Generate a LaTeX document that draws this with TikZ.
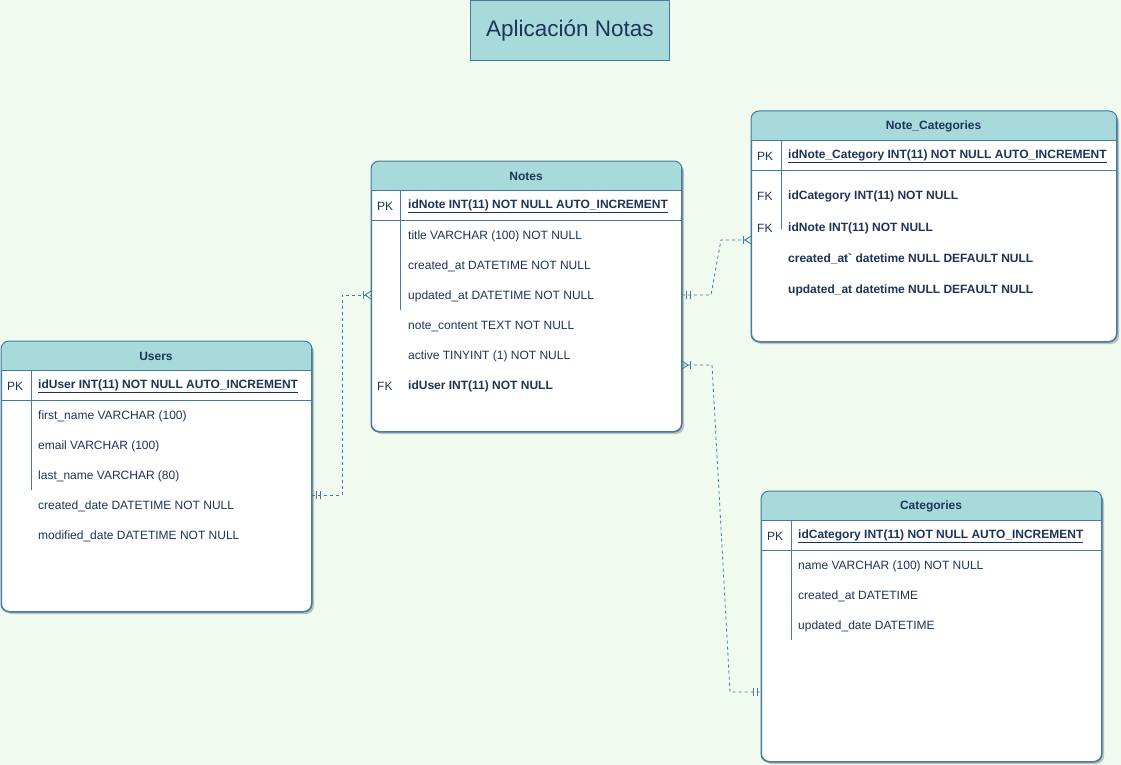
\documentclass[tikz,border=0pt]{standalone}
\usepackage{fontspec}
\setmainfont{Liberation Sans}
\usetikzlibrary{arrows.meta,positioning,shadows,decorations.markings}
\definecolor{bgmint}{HTML}{F1FAEE}
\definecolor{headteal}{HTML}{A8DADC}
\definecolor{edgeblue}{HTML}{457B9D}
\definecolor{inkblue}{HTML}{1D3557}
\tikzset{
  tablebox/.style={draw=edgeblue, fill=white, rounded corners=8pt, line width=1pt, anchor=north west, inner sep=0pt,
    drop shadow={shadow xshift=2.5pt, shadow yshift=-2.5pt, fill=black!45, opacity=0.5}},
  titlebox/.style={draw=edgeblue, fill=headteal, line width=1pt, anchor=north west, text=inkblue, font=\fontsize{22.5}{26}\selectfont},
  headtext/.style={text=inkblue, inner sep=0pt, yshift=-1pt, font=\fontsize{12}{14}\selectfont\bfseries},
  rowtext/.style={anchor=west, inner sep=0pt, yshift=-1.5pt, text=inkblue, font=\fontsize{12}{14}\selectfont},
  boldrow/.style={rowtext, font=\fontsize{12}{14}\selectfont\bfseries},
  sepline/.style={draw=edgeblue, line width=1pt},
  relline/.style={draw=edgeblue, line width=0.8pt, dash pattern=on 3pt off 3pt},
  markpen/.style={draw=edgeblue, solid, line width=0.9pt},
  onestart/.style={postaction={decorate, decoration={markings,
      mark=at position 4pt with {\draw[markpen] (0,-4pt) -- (0,4pt);},
      mark=at position 8pt with {\draw[markpen] (0,-4pt) -- (0,4pt);}}}},
  oneend/.style={postaction={decorate, decoration={markings,
      mark=at position -4pt with {\draw[markpen] (0,-4pt) -- (0,4pt);},
      mark=at position -8pt with {\draw[markpen] (0,-4pt) -- (0,4pt);}}}},
  manystart/.style={postaction={decorate, decoration={markings,
      mark=at position 0.01pt with {\draw[markpen] (0,-4pt) -- (6pt,0) -- (0,4pt); \draw[markpen] (8pt,-4pt) -- (8pt,4pt);}}}},
  manyend/.style={postaction={decorate, decoration={markings,
      mark=at position 1 with {\draw[markpen] (0,-4pt) -- (-6pt,0) -- (0,4pt); \draw[markpen] (-8pt,-4pt) -- (-8pt,4pt);}}}},
}

\begin{document}
\begin{tikzpicture}[x=1pt,y=-1pt]
  % canvas
  \fill[bgmint] (0,0) rectangle (1121,765);
  \useasboundingbox (0,0) rectangle (1121,765);

  % title
  \node[titlebox, minimum width=199pt, minimum height=60pt] (title) at (470,0.5) {Aplicación Notas};

  % Notes table
  \node[tablebox, minimum width=310pt, minimum height=270pt] (notes) at (371,161) {};
  \begin{scope}
    \clip[rounded corners=8pt] (notes.north west) rectangle (notes.south east);
    \fill[headteal] (notes.north west) rectangle (681,190);
  \end{scope}
  \draw[edgeblue, line width=1pt, rounded corners=8pt] (notes.north west) rectangle (notes.south east);
  \draw[sepline] (371,190) -- (681,190);
  \draw[sepline] (371,220) -- (681,220);
  \draw[sepline] (400,190) -- (400,310);
  \node[headtext] (notes_head) at (526,175.5) {Notes};
  \node[rowtext] (notes_pkkey) at (377,205) {PK};
  \node[boldrow] (notes_pk) at (408,205) {\underline{idNote INT(11) NOT NULL AUTO\_INCREMENT}};
  \node[rowtext] (notes_title) at (408,235) {title VARCHAR (100) NOT NULL};
  \node[rowtext] (notes_created) at (408,265) {created\_at DATETIME NOT NULL};
  \node[rowtext] (notes_updated) at (408,295) {updated\_at DATETIME NOT NULL};
  \node[rowtext] (notes_content) at (408,325) {note\_content TEXT NOT NULL};
  \node[rowtext] (notes_active) at (408,355) {active TINYINT (1) NOT NULL};
  \node[rowtext] (notes_fkkey) at (377,385) {FK};
  \node[boldrow] (notes_fk) at (408,385) {idUser INT(11) NOT NULL};

  % Note_Categories table
  \node[tablebox, minimum width=365pt, minimum height=230pt] (nc) at (751,111) {};
  \begin{scope}
    \clip[rounded corners=8pt] (nc.north west) rectangle (nc.south east);
    \fill[headteal] (nc.north west) rectangle (1116,140);
  \end{scope}
  \draw[edgeblue, line width=1pt, rounded corners=8pt] (nc.north west) rectangle (nc.south east);
  \draw[sepline] (751,140) -- (1116,140);
  \draw[sepline] (751,170) -- (1116,170);
  \draw[sepline] (781,140) -- (781,229);
  \node[headtext] (nc_head) at (933.5,125.5) {Note\_Categories};
  \node[rowtext] (nc_pkkey) at (757,155) {PK};
  \node[boldrow] (nc_pk) at (788,155) {\underline{idNote\_Category INT(11) NOT NULL AUTO\_INCREMENT}};
  \node[rowtext] (nc_fkkey1) at (757,195) {FK};
  \node[boldrow] (nc_fk1) at (788,195) {idCategory INT(11) NOT NULL};
  \node[rowtext] (nc_fkkey2) at (757,227) {FK};
  \node[boldrow] (nc_fk2) at (788,227) {idNote INT(11) NOT NULL};
  \node[boldrow] (nc_created) at (788,257) {created\_at\textasciigrave{} datetime NULL DEFAULT NULL};
  \node[boldrow] (nc_updated) at (788,289) {updated\_at datetime NULL DEFAULT NULL};

  % Users table
  \node[tablebox, minimum width=310pt, minimum height=270pt] (users) at (1,341) {};
  \begin{scope}
    \clip[rounded corners=8pt] (users.north west) rectangle (users.south east);
    \fill[headteal] (users.north west) rectangle (311,370);
  \end{scope}
  \draw[edgeblue, line width=1pt, rounded corners=8pt] (users.north west) rectangle (users.south east);
  \draw[sepline] (1,370) -- (311,370);
  \draw[sepline] (1,400) -- (311,400);
  \draw[sepline] (31,370) -- (31,490);
  \node[headtext] (users_head) at (156,355.5) {Users};
  \node[rowtext] (users_pkkey) at (7,385) {PK};
  \node[boldrow] (users_pk) at (38,385) {\underline{idUser INT(11) NOT NULL AUTO\_INCREMENT}};
  \node[rowtext] (users_first) at (38,415) {first\_name VARCHAR (100)};
  \node[rowtext] (users_email) at (38,445) {email VARCHAR (100)};
  \node[rowtext] (users_last) at (38,475) {last\_name VARCHAR (80)};
  \node[rowtext] (users_created) at (38,505) {created\_date DATETIME NOT NULL};
  \node[rowtext] (users_modified) at (38,535) {modified\_date DATETIME NOT NULL};

  % Categories table
  \node[tablebox, minimum width=340pt, minimum height=270pt] (cats) at (761,491) {};
  \begin{scope}
    \clip[rounded corners=8pt] (cats.north west) rectangle (cats.south east);
    \fill[headteal] (cats.north west) rectangle (1101,520);
  \end{scope}
  \draw[edgeblue, line width=1pt, rounded corners=8pt] (cats.north west) rectangle (cats.south east);
  \draw[sepline] (761,520) -- (1101,520);
  \draw[sepline] (761,550) -- (1101,550);
  \draw[sepline] (791,520) -- (791,640);
  \node[headtext] (cats_head) at (931,505.5) {Categories};
  \node[rowtext] (cats_pkkey) at (767,535) {PK};
  \node[boldrow] (cats_pk) at (798,535) {\underline{idCategory INT(11) NOT NULL AUTO\_INCREMENT}};
  \node[rowtext] (cats_name) at (798,565) {name VARCHAR (100) NOT NULL};
  \node[rowtext] (cats_created) at (798,595) {created\_at DATETIME};
  \node[rowtext] (cats_updated) at (798,625) {updated\_date DATETIME};

  % relation end points
  \coordinate (users_r) at (users.east |- 0,495);
  \coordinate (notes_l) at (notes.west |- 0,295);
  \coordinate (notes_r1) at (notes.east |- 0,295);
  \coordinate (notes_r2) at (notes.east |- 0,365);
  \coordinate (nc_l) at (nc.west |- 0,240);
  \coordinate (cats_l) at (cats.west |- 0,692);

  % relations
  \draw[relline, onestart, manyend] (users_r) -- ++(30,0) |- (notes_l);
  \draw[relline, onestart, manyend] (notes_r1) -- ++(29,0) -- ++(10,-55) -- (nc_l);
  \draw[relline, manystart, oneend] (notes_r2) -- ++(30,0) -- (730,692) -- (cats_l);
\end{tikzpicture}
\end{document}
